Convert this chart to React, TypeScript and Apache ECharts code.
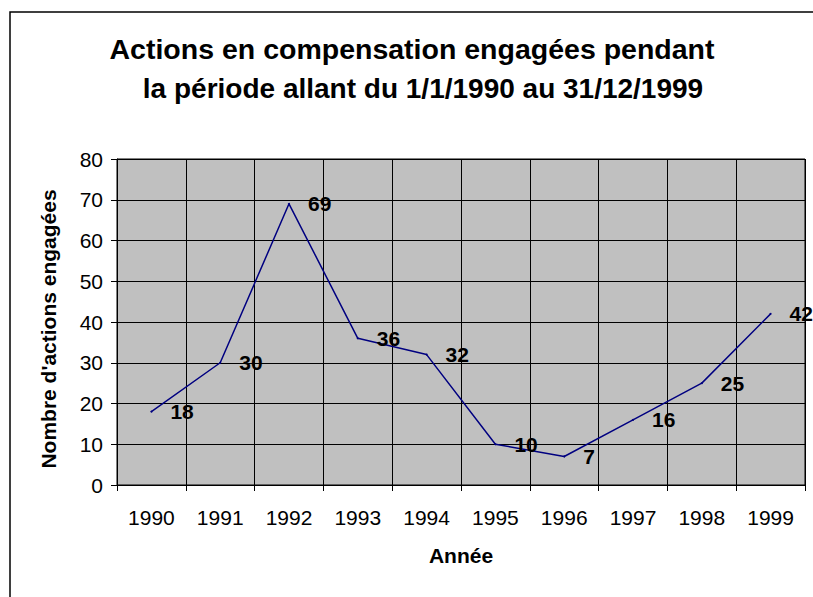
import React, { useEffect, useRef } from "react";
import * as echarts from "echarts";

const years = ["1990", "1991", "1992", "1993", "1994", "1995", "1996", "1997", "1998", "1999"];
const actions = [18, 30, 69, 36, 32, 10, 7, 16, 25, 42];
const titleLines = [
  "Actions en compensation engagées pendant",
  "la période allant du 1/1/1990 au 31/12/1999",
];
const yTitle = "Nombre d'actions engagées";
const xTitle = "Année";

const FONT = "Arial, 'Liberation Sans', sans-serif";

export default function App() {
  const ref = useRef<HTMLDivElement>(null);
  useEffect(() => {
    if (!ref.current) return;
    const chart = echarts.init(ref.current, undefined, { renderer: "svg" });
    chart.setOption({
      animation: false,
      backgroundColor: "#ffffff",
      textStyle: { fontFamily: FONT },
      graphic: [
        {
          type: "polyline",
          shape: { points: [[10, 620], [10, 12], [830, 12]] },
          style: { fill: "none", stroke: "#000", lineWidth: 1.5 },
          silent: true,
        },
        {
          type: "text",
          x: 412,
          y: 49,
          style: {
            text: titleLines[0],
            font: `bold 28.5px ${FONT}`,
            fill: "#000",
            textAlign: "center",
            textVerticalAlign: "middle",
          },
        },
        {
          type: "text",
          x: 423,
          y: 88,
          style: {
            text: titleLines[1],
            font: `bold 28px ${FONT}`,
            fill: "#000",
            textAlign: "center",
            textVerticalAlign: "middle",
          },
        },
        {
          type: "text",
          x: 48,
          y: 329,
          rotation: Math.PI / 2,
          style: {
            text: yTitle,
            font: `bold 21px ${FONT}`,
            fill: "#000",
            textAlign: "center",
            textVerticalAlign: "middle",
          },
        },
      ],
      grid: { left: 117, top: 159, width: 688, height: 326, containLabel: false, show: true, backgroundColor: "#C0C0C0", borderColor: "#000", borderWidth: 1 },
      xAxis: {
        type: "category",
        data: years,
        boundaryGap: true,
        name: xTitle,
        nameLocation: "middle",
        nameGap: 60,
        nameTextStyle: { fontSize: 21, fontWeight: "bold", color: "#000", fontFamily: FONT },
        axisLine: { lineStyle: { color: "#000", width: 1 } },
        axisTick: { show: true, length: 6, lineStyle: { color: "#000" } },
        axisLabel: { fontSize: 21, color: "#000", margin: 22, fontFamily: FONT },
        splitLine: { show: true, lineStyle: { color: "#000", width: 1 } },
      },
      yAxis: {
        type: "value",
        min: 0,
        max: 80,
        interval: 10,
        axisLine: { show: true, lineStyle: { color: "#000", width: 1 } },
        axisTick: { show: true, length: 6, lineStyle: { color: "#000" } },
        axisLabel: { fontSize: 21, color: "#000", margin: 14, fontFamily: FONT },
        splitLine: { show: true, lineStyle: { color: "#000", width: 1 } },
      },
      series: [
        {
          type: "line",
          data: actions,
          showSymbol: true,
          symbol: "circle",
          symbolSize: 2,
          itemStyle: { color: "#000080", borderWidth: 0 },
          lineStyle: { color: "#000080", width: 1.5 },
          label: {
            show: true,
            position: "right",
            distance: 18,
            fontSize: 21,
            fontWeight: "bold",
            color: "#000",
            fontFamily: FONT,
          },
        },
      ],
    });
    return () => chart.dispose();
  }, []);
  return (
    <div
      ref={ref}
      style={{ position: "fixed", left: 0, top: 0, width: 813, height: 597 }}
    />
  );
}
